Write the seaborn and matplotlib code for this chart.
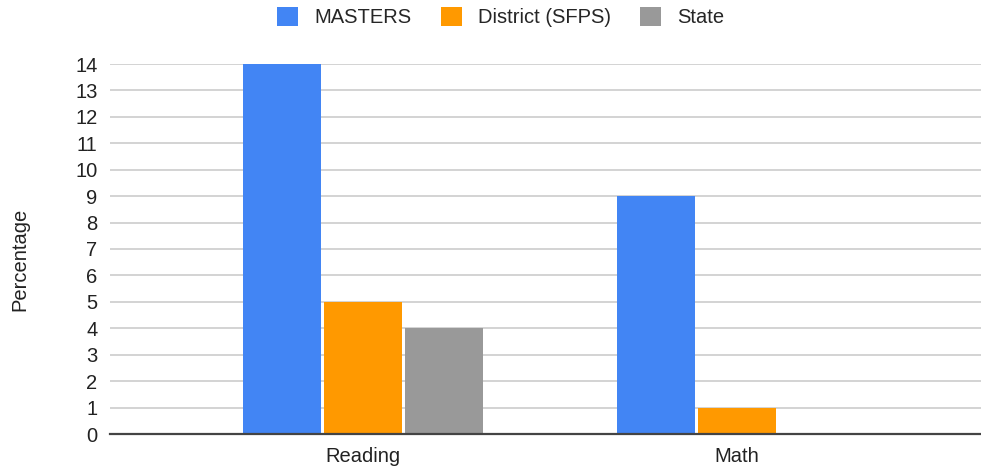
import pandas as pd
import seaborn as sns
import matplotlib.pyplot as plt
from matplotlib.patches import Patch

# dati
subjects = ["Reading", "Math"]
groups = ["MASTERS", "District (SFPS)", "State"]
masters = [14, 9]
district = [5, 1]
state = [4, 0]
colors = ["#4285F4", "#FF9900", "#999999"]

rows = []
for g, vals in zip(groups, [masters, district, state]):
    for s, v in zip(subjects, vals):
        rows.append({"subject": s, "group": g, "value": v})
df = pd.DataFrame(rows)

sns.set_style("white")
plt.rcParams["font.family"] = ["Liberation Sans", "DejaVu Sans"]
fs = 14.5

fig = plt.figure(figsize=(9.81, 4.72), dpi=100)
ax = fig.add_axes([110 / 981, (472 - 434) / 472, 871 / 981, (434 - 64) / 472])

sns.barplot(data=df, x="subject", y="value", hue="group", palette=colors,
            width=0.65, gap=0.04, saturation=1, legend=False, ax=ax,
            edgecolor="none", zorder=3)

ax.set_xlim(-0.676, 1.652)
ax.set_ylim(0, 14)
ax.set_yticks(range(0, 15))
ax.yaxis.grid(True, color="#cccccc", linewidth=1.2, zorder=0)
ax.set_axisbelow(True)
for side in ["top", "right", "left"]:
    ax.spines[side].set_visible(False)
ax.spines["bottom"].set_color("#444444")
ax.spines["bottom"].set_linewidth(1.6)
ax.spines["bottom"].set_zorder(5)
ax.tick_params(axis="y", length=0, pad=9, labelsize=fs, labelcolor="#222222")
ax.tick_params(axis="x", length=0, pad=9, labelsize=fs, labelcolor="#222222")
ax.set_xlabel("")
ax.set_ylabel("")
fig.text(20 / 981, 1 - 259 / 472, "Percentage", rotation=90, ha="center",
         va="center", fontsize=fs, color="#222222")

handles = [Patch(facecolor=c, edgecolor="none") for c in colors]
fig.legend(handles, groups, loc="center", bbox_to_anchor=(501 / 981, 1 - 17 / 472),
           ncol=3, frameon=False, fontsize=fs, handlelength=1.05, handleheight=1.1,
           handletextpad=0.8, columnspacing=1.45)

fig.savefig("out.png", dpi=100)
